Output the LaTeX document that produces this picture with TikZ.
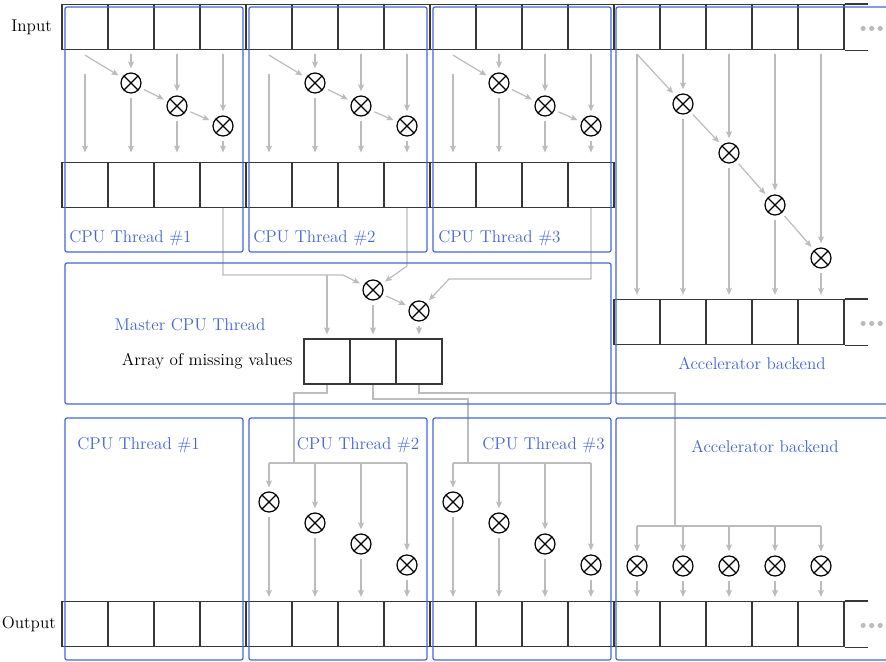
\documentclass[tikz,border=0pt]{standalone}
\usetikzlibrary{arrows.meta, positioning}
\definecolor{threadblue}{RGB}{68,102,218}
\definecolor{flowgray}{RGB}{188,188,188}
\definecolor{cellgray}{RGB}{55,55,55}

\begin{document}
\begin{tikzpicture}[
    x=0.75pt, y=-0.75pt,
    font=\fontsize{12.8}{15}\selectfont,
    cell/.style={
        draw=cellgray,
        rectangle,
        minimum width=34.5pt,
        minimum height=33.75pt,
        inner sep=0pt,
        line width=0.9pt
    },
    cellline/.style={
        draw=cellgray,
        line width=0.9pt
    },
    op/.style={
        draw=black,
        circle,
        minimum size=15pt,
        inner sep=0pt,
        line width=0.9pt,
        path picture={
            \draw[line width=0.9pt]
                (path picture bounding box.north west) -- (path picture bounding box.south east)
                (path picture bounding box.north east) -- (path picture bounding box.south west);
        }
    },
    group/.style={
        draw=threadblue,
        rectangle,
        rounded corners=1.5pt,
        line width=0.9pt,
        inner sep=0pt
    },
    tag/.style={
        text=threadblue,
        inner sep=0pt
    },
    link/.style={
        draw=flowgray,
        line width=0.9pt
    },
    flow/.style={
        link,
        -{Stealth[length=5.2pt,width=4.4pt,inset=1pt]},
        shorten <=3pt,
        shorten >=3pt
    },
    more/.style={
        fill=flowgray,
        circle,
        inner sep=0pt,
        minimum size=3.9pt
    }
]
\useasboundingbox (0,0) rectangle (886,661);

\foreach \i in {0,...,16}
    \node[cell] (in\i) at ({85+46*\i},27) {};
\foreach \i in {0,...,11}
    \node[cell] (mid\i) at ({85+46*\i},185) {};
\foreach \i in {12,...,16}
    \node[cell] (mid\i) at ({85+46*\i},322) {};
\foreach \i in {0,1,2}
    \node[cell] (ma\i) at ({327+46*\i},361.5) {};
\foreach \i in {0,...,16}
    \node[cell] (out\i) at ({85+46*\i},624) {};

\foreach \r in {in16, mid16, out16}{
    \draw[cellline] (\r.north east) -- ++(23,0) (\r.south east) -- ++(23,0);
    \foreach \k in {0,1,2}
        \node[more] (\r-dot\k) at ([xshift={13.9pt+6.4pt*\k}, yshift=-1.1pt]\r.east) {};
}

\node[left=7pt of in0, inner sep=0pt] (linput) {Input};
\node[left=4pt of out0, inner sep=0pt] (loutput) {Output};
\node[left=8pt of ma0, inner sep=0pt] (lmissing) {Array of missing values};

\foreach \tid [evaluate=\tid as \ca using int(4*\tid),
               evaluate=\tid as \cb using int(4*\tid+1),
               evaluate=\tid as \cc using int(4*\tid+2),
               evaluate=\tid as \cd using int(4*\tid+3)] in {0,1,2}{
    \node[op] (x\tid1) at ({131+184*\tid},83) {};
    \node[op] (x\tid2) at ({177+184*\tid},106) {};
    \node[op] (x\tid3) at ({223+184*\tid},126) {};
    \draw[flow, shorten <=18pt, shorten >=7pt] (in\ca) -- (mid\ca);
    \draw[flow, shorten <=0pt] ([yshift=-3.75pt]in\ca.south) -- (x\tid1);
    \draw[flow] (in\cb) -- (x\tid1);
    \draw[flow] (in\cc) -- (x\tid2);
    \draw[flow] (in\cd) -- (x\tid3);
    \draw[flow] (x\tid1) -- (x\tid2);
    \draw[flow] (x\tid2) -- (x\tid3);
    \draw[flow, shorten >=7pt] (x\tid1) -- (mid\cb);
    \draw[flow, shorten >=7pt] (x\tid2) -- (mid\cc);
    \draw[flow, shorten >=7pt] (x\tid3) -- (mid\cd);
}

\node[op] (acc1) at (683,104) {};
\node[op] (acc2) at (729,153) {};
\node[op] (acc3) at (775,205) {};
\node[op] (acc4) at (821,258) {};
\draw[flow] (in12) -- (mid12);
\draw[flow, shorten <=0pt] ([yshift=-3pt]in12.south) -- (acc1);
\foreach \k [evaluate=\k as \c using int(12+\k)] in {1,...,4}{
    \draw[flow] (in\c) -- (acc\k);
    \draw[flow] (acc\k) -- (mid\c);
}
\foreach \k/\j in {1/2, 2/3, 3/4}
    \draw[flow] (acc\k) -- (acc\j);

\node[op] (m1) at (373,290) {};
\node[op] (m2) at (419,311) {};
\coordinate (k1) at (343,275);
\coordinate (k2) at (407,266);
\coordinate (k3) at (449,279);
\draw[flow, shorten <=0pt] (mid3.south) |- (k1) -- (m1);
\draw[flow, shorten <=0pt] (ma0.north |- k1) -- (ma0);
\draw[flow, shorten <=0pt] (mid7.south) -- (k2) -- (m1);
\draw[flow, shorten <=0pt] (mid11.south) |- (k3) -- (m2);
\draw[flow] (m1) -- (m2);
\draw[flow] (m1) -- (ma1);
\draw[flow] (m2) -- (ma2);

\coordinate (u1) at (294,393);
\coordinate (b2) at (294,463);
\coordinate (u2) at (468,399);
\coordinate (b3) at (468,463);
\coordinate (u3) at (675,393);
\coordinate (b4) at (675,526);
\draw[link] (ma0.south) |- (u1) -- (b2);
\draw[link] (ma1.south) |- (u2) -- (b3);
\draw[link] (ma2.south) |- (u3) -- (b4);

\foreach \tid/\b in {1/b2, 2/b3}{
    \foreach \k [evaluate=\k as \c using int(4*\tid+\k-1)] in {1,...,4}{
        \node[op] (y\tid\k) at ({85+46*\c},{502+21*(\k-1)}) {};
        \draw[flow, shorten <=0pt] (y\tid\k |- \b) -- (y\tid\k);
        \draw[flow] (y\tid\k) -- (out\c);
    }
    \draw[link] (y\tid1 |- \b) -- (y\tid4 |- \b);
}

\foreach \k [evaluate=\k as \c using int(12+\k)] in {0,...,4}{
    \node[op] (z\k) at ({85+46*\c},566) {};
    \draw[flow, shorten <=0pt] (z\k |- b4) -- (z\k);
    \draw[flow] (z\k) -- (out\c);
}
\draw[link] (z0 |- b4) -- (z4 |- b4);

\node[group, minimum width=133.5pt, minimum height=183.75pt] (top1) at (154,129.5) {};
\node[group, minimum width=133.5pt, minimum height=183.75pt] (top2) at (338,129.5) {};
\node[group, minimum width=133.5pt, minimum height=183.75pt] (top3) at (522,129.5) {};
\node[group, minimum width=213pt, minimum height=297.75pt] (topacc) at (758,205.5) {};
\node[group, minimum width=409.5pt, minimum height=105.75pt] (master) at (338,333.5) {};
\node[group, minimum width=133.5pt, minimum height=181.5pt] (bot1) at (154,539) {};
\node[group, minimum width=133.5pt, minimum height=181.5pt] (bot2) at (338,539) {};
\node[group, minimum width=133.5pt, minimum height=181.5pt] (bot3) at (522,539) {};
\node[group, minimum width=213pt, minimum height=181.5pt] (botacc) at (758,539) {};

\node[tag, anchor=west] (ltop1) at (69,238) {CPU Thread \#1};
\node[tag, anchor=west] (ltop2) at (253,238) {CPU Thread \#2};
\node[tag, anchor=west] (ltop3) at (438,238) {CPU Thread \#3};
\node[tag] (ltopacc) at (752,363) {Accelerator backend};
\node[tag] (lmaster) at (190,325) {Master CPU Thread};
\node[tag] (lbot1) at (138.5,445) {CPU Thread \#1};
\node[tag] (lbot2) at (358,445) {CPU Thread \#2};
\node[tag] (lbot3) at (543.5,445) {CPU Thread \#3};
\node[tag] (lbotacc) at (765,446) {Accelerator backend};

\end{tikzpicture}
\end{document}
